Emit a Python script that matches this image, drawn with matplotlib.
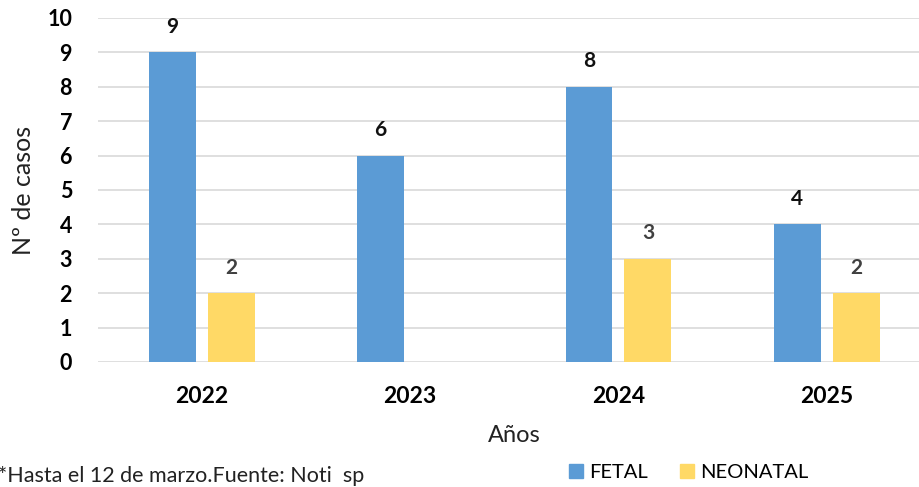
import matplotlib.pyplot as plt
import numpy as np

plt.rcParams['font.family'] = ['Lato', 'DejaVu Sans']

years = ['2022', '2023', '2024', '2025']
fetal = [9, 6, 8, 4]
neonatal = [2, 0, 3, 2]

blue = '#5B9BD5'
yellow = '#FFD966'

fig = plt.figure(figsize=(9.19, 4.87), dpi=100)
ax = fig.add_axes([97.8 / 919, 125 / 487, 833 / 919, 344 / 487])

x = np.arange(len(years))
w = 0.225
off = 0.1416
ax.bar(x - off, fetal, w, color=blue, zorder=3)
ax.bar(x + off, neonatal, w, color=yellow, zorder=3)

for i in range(len(years)):
    ax.text(x[i] - off, fetal[i] + 0.74, str(fetal[i]), ha='center', va='center',
            fontsize=15, fontweight='bold', color='#111111')
    if neonatal[i]:
        ax.text(x[i] + off, neonatal[i] + 0.74, str(neonatal[i]), ha='center', va='center',
                fontsize=15, fontweight='bold', color='#404040')

ax.set_xlim(-0.5, 3.5)
ax.set_ylim(0, 10)
ax.set_yticks(range(11))
ax.set_xticks(x)
ax.set_xticklabels(years, fontsize=16.5, fontweight='bold')
for t in ax.get_yticklabels():
    t.set_fontsize(15.5)
    t.set_fontweight('bold')
ax.tick_params(axis='both', length=0)
ax.tick_params(axis='y', pad=18.5)
ax.tick_params(axis='x', pad=17)
ax.grid(axis='y', color='#d9d9d9', linewidth=1.2, zorder=0)
for s in ax.spines.values():
    s.set_visible(False)

ax.set_xlabel('Años', fontsize=17, color='#222222', labelpad=13)
ax.set_ylabel('Nº de casos', fontsize=18, color='#222222', labelpad=9)

fig.text(-0.002, 1 / 487, '*Hasta el 12 de marzo.Fuente: Noti  sp', fontsize=15.5,
         color='#222222', ha='left', va='bottom')

ax.legend(handles=[plt.Rectangle((0, 0), 1, 1, color=blue), plt.Rectangle((0, 0), 1, 1, color=yellow)],
          labels=['FETAL', 'NEONATAL'], loc='lower left', bbox_to_anchor=(559 / 919, -4 / 487),
          bbox_transform=fig.transFigure, ncol=2, frameon=False, fontsize=14.5,
          handlelength=0.7, handleheight=0.7, handletextpad=0.3, columnspacing=1.6, borderpad=0)

fig.savefig('out.png', dpi=100)
